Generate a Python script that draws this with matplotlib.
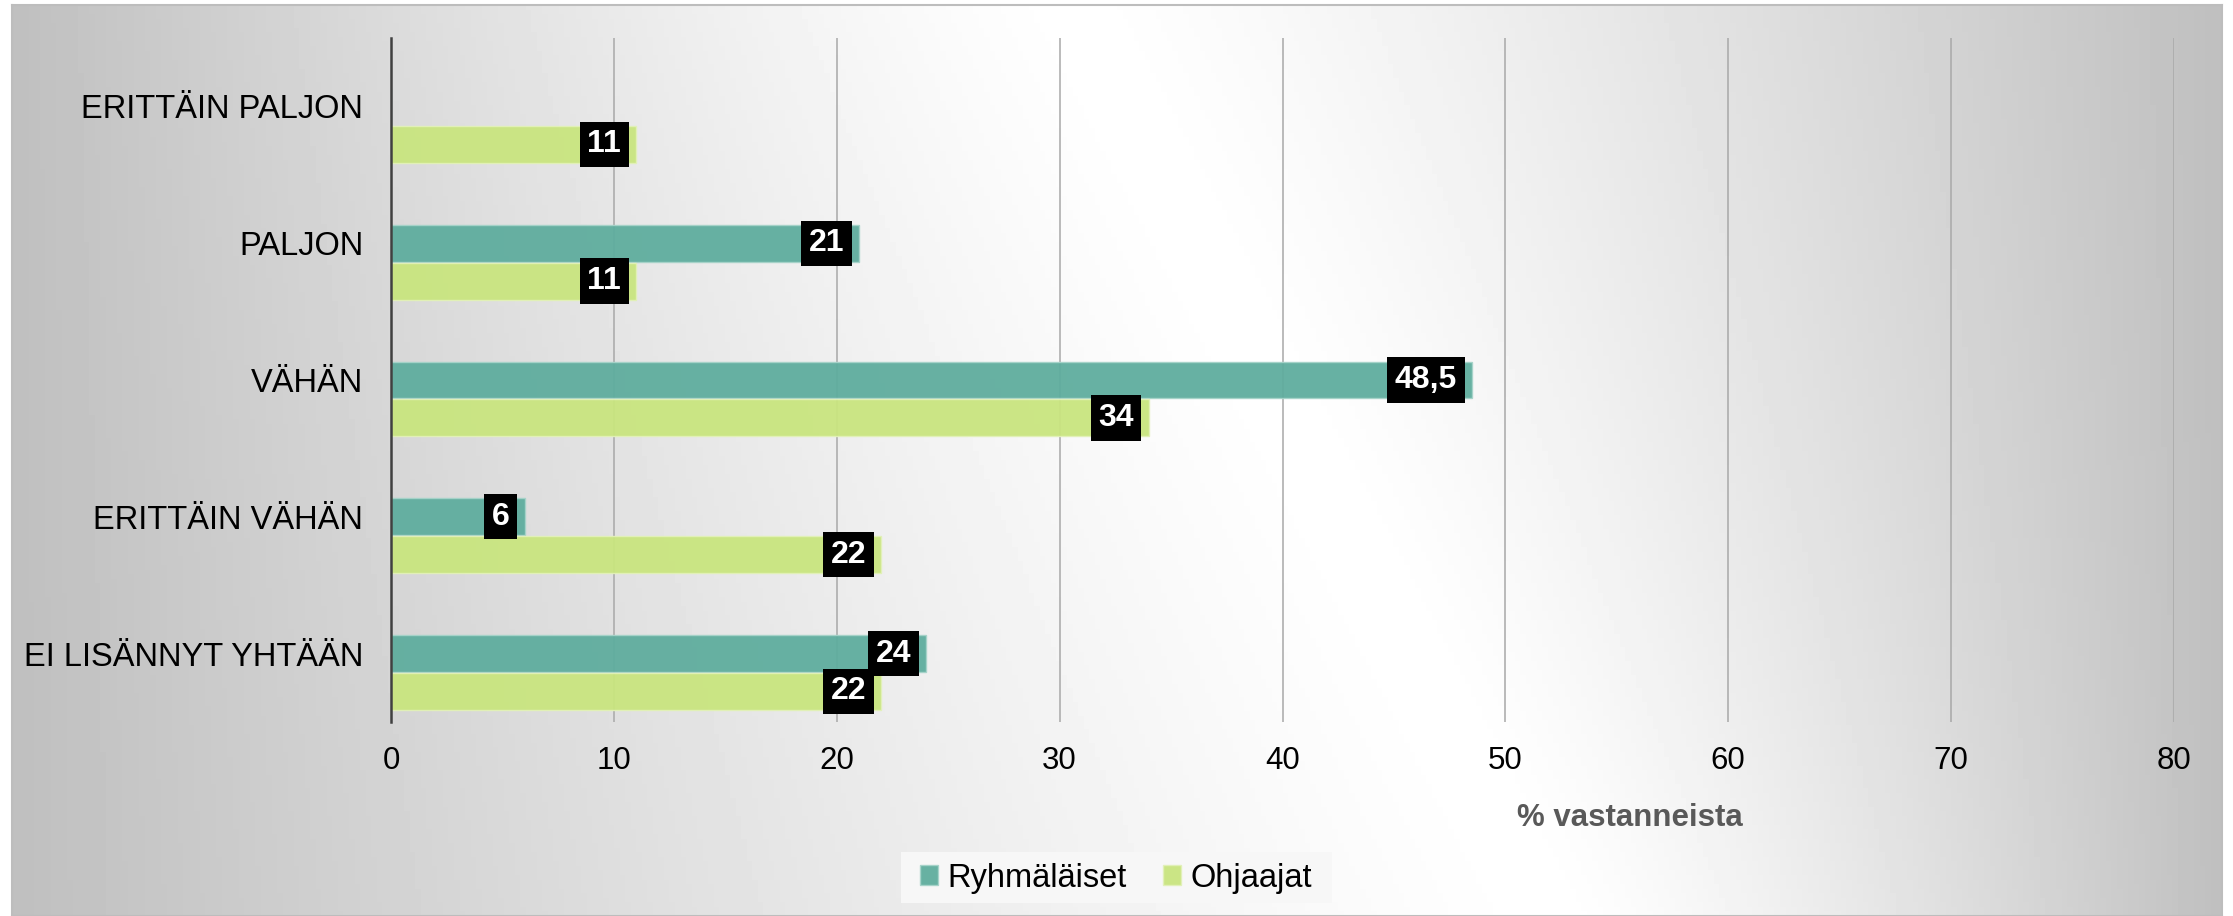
import numpy as np
import matplotlib
import matplotlib.pyplot as plt
from matplotlib.patches import Rectangle

matplotlib.use("Agg")
plt.rcParams["font.family"] = ["Liberation Sans", "DejaVu Sans"]

# data
categories = ["ERITTÄIN PALJON", "PALJON", "VÄHÄN", "ERITTÄIN VÄHÄN", "EI LISÄNNYT YHTÄÄN"]
ryhmalaiset = [0, 21, 48.5, 6, 24]
ohjaajat = [11, 11, 34, 22, 22]
value_labels_r = ["", "21", "48,5", "6", "24"]
value_labels_o = ["11", "11", "34", "22", "22"]
xticks = [0, 10, 20, 30, 40, 50, 60, 70, 80]

W, H = 2233, 916
fig = plt.figure(figsize=(W / 100, H / 100), dpi=100)

# background: grey-white gradient panel
bg = fig.add_axes([12 / W, 0, (2222 - 12) / W, (H - 5) / H])
ny, nx = 200, 400
yy, xx = np.mgrid[0:1:ny * 1j, 0:1:nx * 1j]
cx = 0.48 + 0.22 * yy
d = np.where(xx < cx, (cx - xx) / cx, (xx - cx) / (1 - cx))
shade = 1 - 0.25 * np.clip(d, 0, 1) ** 1.3
bg.imshow(shade, cmap="gray", vmin=0, vmax=1, aspect="auto", extent=[0, 1, 1, 0])
bg.set_xticks([])
bg.set_yticks([])
for s in bg.spines.values():
    s.set_color("#bdbdbd")
    s.set_linewidth(1.5)

ax = fig.add_axes([391 / W, 1 - 722 / H, (2174 - 391) / W, (722 - 38) / H])
ax.set_facecolor("none")

y = np.arange(len(categories))
bh = 0.27
teal = "#5fad9e"
green = "#c9e57f"

ax.barh(y, ryhmalaiset, height=bh, color=teal, edgecolor="#a6d3c9", linewidth=1,
        alpha=0.95, zorder=3, label="Ryhmäläiset")
ax.barh(y + 0.277, ohjaajat, height=bh, color=green, edgecolor="#e2f1b8", linewidth=1,
        alpha=0.95, zorder=3, label="Ohjaajat")

box = dict(boxstyle="square,pad=0.24", fc="black", ec="none")
for yi, v, t in zip(y, ryhmalaiset, value_labels_r):
    if t:
        ax.annotate(t, xy=(v, yi), xytext=(-15, 0), textcoords="offset pixels",
                    ha="right", va="center", color="white", fontsize=23,
                    fontweight="bold", bbox=box, zorder=5)
for yi, v, t in zip(y, ohjaajat, value_labels_o):
    ax.annotate(t, xy=(v, yi + 0.277), xytext=(-15, 0), textcoords="offset pixels",
                ha="right", va="center", color="white", fontsize=23,
                fontweight="bold", bbox=box, zorder=5)

ax.set_xlim(0, 80)
ax.set_ylim(len(categories) - 0.5, -0.5)
ax.set_xticks(xticks)
ax.set_xticklabels([str(t) for t in xticks], fontsize=22.5)
ax.set_yticks(y)
ax.set_yticklabels(categories, fontsize=23.5)
ax.tick_params(axis="x", length=0, pad=17)
ax.tick_params(axis="y", length=0, pad=20)
ax.grid(axis="x", color="#a8a8a8", linewidth=1.1, zorder=1)
ax.set_axisbelow(True)
for side in ["top", "right", "bottom"]:
    ax.spines[side].set_visible(False)
ax.spines["left"].set_color("#404040")
ax.spines["left"].set_linewidth(1.8)
ax.spines["left"].set_zorder(4)

fig.text(1630 / W, 1 - 818 / H, "% vastanneista", ha="center", va="center",
         fontsize=22.5, fontweight="bold", color="#595959")

# legend box
fig.patches.append(Rectangle((901 / W, 1 - 903 / H), (1332 - 901) / W, 51 / H,
                             transform=fig.transFigure, fc="#f7f7f7", ec="none", zorder=0))
handles, labels = ax.get_legend_handles_labels()
leg = fig.legend(handles, labels, loc="center", bbox_to_anchor=(1116 / W, 1 - 878 / H),
                 ncol=2, frameon=False, fontsize=23.5, handlelength=0.55, handleheight=0.55,
                 handletextpad=0.3, columnspacing=1.1)

fig.savefig("out.png", dpi=100, facecolor="white")
